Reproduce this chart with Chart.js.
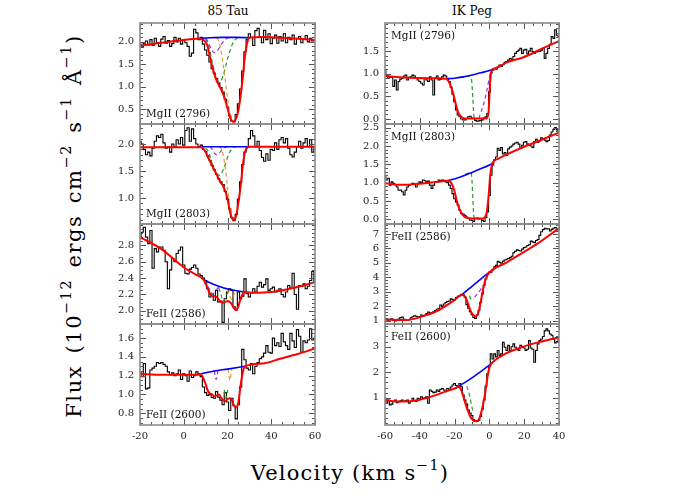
<!DOCTYPE html>
<html><head><meta charset="utf-8">
<script src="https://cdn.jsdelivr.net/npm/chart.js@4.4.1/dist/chart.umd.min.js"></script>
<style>
body{margin:0;background:#fff;width:700px;height:500px;position:relative;overflow:hidden;font-family:'DejaVu Serif',serif;}
canvas{position:absolute;}
.t{position:absolute;white-space:nowrap;color:#000;line-height:1;}
.t sup{font-size:68%;vertical-align:0.7em;}
</style></head><body>
<div class="t" style="left:228px;top:11px;transform:translate(-50%,-50%);font-size:12px;">85 Tau</div>
<div class="t" style="left:472px;top:11px;transform:translate(-50%,-50%);font-size:12px;">IK Peg</div>
<div class="t" style="left:72px;top:226px;transform:translate(-50%,-50%) rotate(-90deg);font-size:21px;letter-spacing:1.6px;word-spacing:3px;">Flux (10<sup>−12</sup> ergs cm<sup>−2</sup> s<sup>−1</sup> Å<sup>−1</sup>)</div>
<div class="t" style="left:350px;top:471px;transform:translate(-50%,-50%);font-size:21px;letter-spacing:1.2px;">Velocity (km s<sup>−1</sup>)</div>
<script>
// ---------- velocity grids ----------
const VEL_85TAU = [-20,-19,-18,-17,-16,-15,-14,-13,-12,-11,-10,-9,-8,-7,-6,-5,-4,-3,-2,-1,0,1,2,3,4,5,6,7,8,9,10,11,12,13,14,15,16,17,18,19,20,21,22,23,24,25,26,27,28,29,30,31,32,33,34,35,36,37,38,39,40,41,42,43,44,45,46,47,48,49,50,51,52,53,54,55,56,57,58,59,60];
const VEL_IKPEG = [-60,-59,-58,-57,-56,-55,-54,-53,-52,-51,-50,-49,-48,-47,-46,-45,-44,-43,-42,-41,-40,-39,-38,-37,-36,-35,-34,-33,-32,-31,-30,-29,-28,-27,-26,-25,-24,-23,-22,-21,-20,-19,-18,-17,-16,-15,-14,-13,-12,-11,-10,-9,-8,-7,-6,-5,-4,-3,-2,-1,0,1,2,3,4,5,6,7,8,9,10,11,12,13,14,15,16,17,18,19,20,21,22,23,24,25,26,27,28,29,30,31,32,33,34,35,36,37,38,39,40];

// ---------- tick labels ----------
const XTICKS_85TAU = [-20,0,20,40,60];
const XTICKS_IKPEG = [-60,-40,-20,0,20,40];
const YTICKS_TAU_MG2796 = [0.5,1.0,1.5,2.0];
const YTICKS_TAU_MG2803 = [1.0,1.5,2.0];
const YTICKS_TAU_FE2586 = [2.0,2.2,2.4,2.6,2.8];
const YTICKS_TAU_FE2600 = [0.8,1.0,1.2,1.4,1.6];
const YTICKS_PEG_MG2796 = [0.0,0.5,1.0,1.5];
const YTICKS_PEG_MG2803 = [0.0,0.5,1.0,1.5,2.0,2.5];
const YTICKS_PEG_FE2586 = [1,2,3,4,5,6,7];
const YTICKS_PEG_FE2600 = [1,2,3];

// ---------- 85 Tau MgII 2796 ----------
const TAU_MG2796_FLUX = [1.95,1.88,1.97,2.02,1.93,2.05,1.92,2.08,1.98,1.90,2.06,2.12,1.97,2.03,1.90,1.96,2.10,2.00,2.08,1.95,2.04,1.98,1.90,1.68,1.75,2.28,2.20,2.05,2.10,1.95,1.82,1.70,1.55,1.40,1.30,1.18,1.08,0.98,0.88,0.72,0.55,0.35,0.24,0.22,0.38,0.62,0.95,1.35,1.78,2.05,2.18,2.10,1.92,2.25,2.30,2.12,1.98,2.26,2.05,2.18,1.96,2.08,2.15,1.97,2.12,2.02,2.18,1.98,2.10,2.05,2.15,1.95,2.08,2.12,1.98,2.06,2.14,2.00,2.08,2.02,2.05];
const TAU_MG2796_FIT_V = [-20,-10,0,6,8,10,11,12,13,14,15,16,17,18,19,20,21,22,23,24,25,26,27,28,29,30,36,45,52,60];
const TAU_MG2796_FIT = [1.91,1.98,2.04,2.07,2.06,2.00,1.88,1.66,1.45,1.28,1.14,1.04,0.95,0.84,0.70,0.52,0.34,0.24,0.22,0.30,0.48,0.80,1.22,1.68,1.98,2.09,2.11,2.09,2.07,2.04];
const TAU_MG2796_CONT_V = [6,12,18,24,30];
const TAU_MG2796_CONT = [2.07,2.09,2.10,2.10,2.09];
const TAU_MG2796_C1_V = [10,11,12,13,14,15,16,17,18,19,20,21];
const TAU_MG2796_C1 = [2.08,2.02,1.90,1.80,1.76,1.78,1.85,1.93,2.00,2.05,2.08,2.10];
const TAU_MG2796_C2_V = [15,16,17,18,19,20,21,22,23];
const TAU_MG2796_C2 = [2.09,2.02,1.80,1.50,1.15,0.75,0.45,0.28,0.23];
const TAU_MG2796_C3_V = [10,11,12,13,14,15,16,17,18,19,20,21,22,23,24,25];
const TAU_MG2796_C3 = [2.07,1.98,1.80,1.56,1.34,1.18,1.11,1.13,1.25,1.42,1.62,1.78,1.92,2.02,2.07,2.10];

// ---------- 85 Tau MgII 2803 ----------
const TAU_MG2803_FLUX = [2.05,2.00,1.90,1.80,1.85,1.78,1.92,2.05,2.15,2.12,2.18,2.02,1.92,1.95,1.85,2.00,1.95,2.08,2.00,2.12,1.98,2.25,2.30,2.05,2.28,2.10,2.00,1.95,1.98,1.90,1.86,1.78,1.70,1.60,1.52,1.44,1.36,1.30,1.25,1.12,0.98,0.80,0.64,0.58,0.70,0.98,1.30,1.62,1.85,1.95,2.10,2.25,2.15,1.95,2.05,1.88,1.75,1.68,1.82,1.70,1.90,1.88,2.02,1.90,2.08,2.12,2.02,2.10,1.92,1.80,1.76,1.85,1.95,2.05,1.92,2.02,2.10,1.95,2.08,1.85,1.95];
const TAU_MG2803_FIT_V = [-20,0,8,9,10,11,12,13,14,15,16,17,18,19,20,21,22,23,24,25,26,27,28,29,30,60];
const TAU_MG2803_FIT = [1.94,1.94,1.94,1.91,1.85,1.76,1.68,1.60,1.52,1.44,1.35,1.28,1.22,1.13,0.98,0.77,0.63,0.60,0.68,0.92,1.22,1.60,1.85,1.93,1.95,1.95];
const TAU_MG2803_CONT_V = [8,14,20,26,30];
const TAU_MG2803_CONT = [1.95,1.95,1.95,1.95,1.95];
const TAU_MG2803_C1_V = [12,13,14,15,16,17,18,19,20];
const TAU_MG2803_C1 = [1.95,1.90,1.83,1.80,1.82,1.87,1.92,1.94,1.95];
const TAU_MG2803_C2_V = [16,17,18,19,20,21,22,23];
const TAU_MG2803_C2 = [1.95,1.93,1.80,1.55,1.20,0.85,0.65,0.60];
const TAU_MG2803_C3_V = [10,11,12,13,14,15,16,17,18,19,20,21,22,23,24];
const TAU_MG2803_C3 = [1.92,1.88,1.78,1.63,1.52,1.45,1.42,1.44,1.52,1.63,1.75,1.85,1.91,1.94,1.95];

// ---------- 85 Tau FeII 2586 ----------
const TAU_FE2586_FLUX = [2.88,2.96,3.02,2.90,2.82,2.98,2.52,2.76,2.72,2.78,2.78,2.74,2.60,2.27,2.50,2.64,2.60,2.70,2.74,2.78,2.56,2.46,2.45,2.51,2.53,2.56,2.52,2.45,2.43,2.40,2.37,2.27,2.17,2.21,2.13,2.25,2.11,2.12,1.86,2.15,2.23,2.27,2.25,2.05,2.01,2.23,2.15,2.18,2.39,2.21,2.17,2.22,2.27,2.23,2.30,2.35,2.29,2.32,2.39,2.25,2.27,2.29,2.23,2.25,2.27,2.20,2.17,2.23,2.31,2.28,2.46,2.20,2.02,2.31,2.30,2.33,2.27,2.30,2.37,2.48,2.35];
const TAU_FE2586_FIT_V = [-20,-10,0,5,9,10,11,12,13,14,15,16,17,18,19,20,21,22,23,24,25,26,27,28,32,40,50,60];
const TAU_FE2586_FIT = [2.90,2.75,2.53,2.45,2.38,2.33,2.27,2.21,2.18,2.18,2.17,2.14,2.11,2.10,2.11,2.12,2.11,2.08,2.03,2.01,2.06,2.15,2.21,2.23,2.22,2.23,2.28,2.35];
const TAU_FE2586_CONT_V = [9,15,21,28];
const TAU_FE2586_CONT = [2.38,2.31,2.26,2.23];
const TAU_FE2586_C1_V = [11,12,13,14,15,16];
const TAU_FE2586_C1 = [2.30,2.25,2.21,2.22,2.26,2.29];
const TAU_FE2586_C2_V = [20,21,22,23,24];
const TAU_FE2586_C2 = [2.26,2.18,2.14,2.20,2.25];
const TAU_FE2586_C3_V = [16,17,18,19,20,21];
const TAU_FE2586_C3 = [2.28,2.20,2.12,2.15,2.22,2.26];

// ---------- 85 Tau FeII 2600 ----------
const TAU_FE2600_FLUX = [1.24,1.19,1.33,1.06,1.07,1.26,1.28,1.30,1.34,1.33,1.34,1.32,1.30,1.24,1.21,1.23,1.20,1.22,1.26,1.16,1.22,1.20,1.14,1.25,1.18,1.20,1.24,1.22,1.19,1.08,1.02,0.99,1.00,0.97,0.96,1.03,0.97,0.94,0.89,1.02,0.92,0.83,0.96,0.88,0.74,0.89,1.08,1.48,1.37,1.28,1.26,1.33,1.22,1.30,1.34,1.38,1.40,1.44,1.52,1.45,1.44,1.60,1.52,1.55,1.51,1.65,1.56,1.52,1.48,1.65,1.57,1.50,1.69,1.62,1.45,1.57,1.55,1.58,1.70,1.58,1.60];
const TAU_FE2600_FIT_V = [-20,-10,0,8,9,10,11,12,13,14,15,16,17,18,19,20,21,22,23,24,25,26,27,28,36,44,52,60];
const TAU_FE2600_FIT = [1.22,1.21,1.21,1.21,1.17,1.11,1.04,1.01,1.00,0.98,0.99,1.00,0.97,0.94,0.93,0.95,0.96,0.94,0.88,0.86,0.92,1.10,1.24,1.30,1.33,1.38,1.43,1.49];
const TAU_FE2600_CONT_V = [8,14,20,28];
const TAU_FE2600_CONT = [1.22,1.25,1.27,1.30];
const TAU_FE2600_C1_V = [14,14.8,15.6];
const TAU_FE2600_C1 = [1.25,1.16,1.25];
const TAU_FE2600_C2_V = [20.3,21.1,21.9];
const TAU_FE2600_C2 = [1.27,1.15,1.27];
const TAU_FE2600_C3_V = [18.5,19.3,20.1];
const TAU_FE2600_C3 = [1.05,0.96,1.05];

// ---------- IK Peg MgII 2796 ----------
const PEG_MG2796_FLUX = [1.08,0.97,0.90,0.93,0.92,0.72,0.86,0.64,0.83,0.88,0.90,0.95,0.97,0.86,0.92,0.93,0.97,0.95,0.90,0.86,0.83,0.79,0.75,0.90,0.86,0.83,0.93,0.86,0.53,0.90,0.95,0.86,0.88,0.93,0.97,0.95,0.88,0.83,0.70,0.55,0.38,0.20,0.09,0.05,0.00,-0.02,-0.02,0.01,0.05,0.06,0.02,0.01,-0.03,-0.05,-0.04,-0.03,-0.02,0.02,0.05,0.12,0.60,1.01,1.08,1.12,1.10,1.15,1.19,1.16,1.20,1.25,1.27,1.30,1.34,1.31,1.38,1.45,1.49,1.52,1.56,1.45,1.52,1.54,1.44,1.50,1.56,1.49,1.45,1.48,1.50,1.49,1.52,1.56,1.34,1.45,1.56,1.65,1.82,1.78,1.97,1.85,1.82];
const PEG_MG2796_FIT_V = [-60,-45,-30,-25,-24,-23,-22,-21,-20,-19,-18,-17,-16,-15,-14,-5,-2,-1.5,-0.5,0.4,1.3,2,4,10,20,30,40];
const PEG_MG2796_FIT = [0.95,0.91,0.90,0.89,0.86,0.80,0.71,0.58,0.44,0.28,0.16,0.08,0.04,0.02,0.01,0.01,0.01,0.02,0.15,0.80,1.08,1.10,1.13,1.25,1.37,1.55,1.72];
const PEG_MG2796_CONT_V = [-25,-20,-15,-10,-5,0,2];
const PEG_MG2796_CONT = [0.89,0.90,0.93,0.97,1.02,1.07,1.10];
const PEG_MG2796_C1_V = [-6,-5.4,-3.5,-1.6,-0.1,1];
const PEG_MG2796_C1 = [0.01,0.09,0.31,0.60,0.90,1.05];
const PEG_MG2796_C3_V = [-17,-13,-11,-10.2,-9.5,-9,-8.5];
const PEG_MG2796_C3 = [0.92,0.94,0.95,0.85,0.45,0.10,0.01];

// ---------- IK Peg MgII 2803 ----------
const PEG_MG2803_FLUX = [1.17,1.07,1.12,0.93,1.02,0.98,0.95,0.88,0.79,0.80,0.75,0.66,0.79,0.88,0.93,0.95,0.98,0.96,0.88,0.98,1.02,1.00,1.07,1.05,1.02,1.04,0.93,0.84,0.93,1.02,1.02,1.07,1.05,1.07,1.06,1.02,1.00,0.93,0.84,0.70,0.56,0.47,0.38,0.25,0.16,0.14,0.11,0.06,0.02,-0.02,-0.03,-0.06,0.02,0.03,0.01,0.02,-0.03,-0.06,0.05,0.20,0.65,1.20,1.48,1.62,1.70,1.94,1.88,1.96,1.78,1.82,1.74,1.92,1.97,2.00,2.05,2.08,2.10,2.05,1.94,2.02,2.10,2.12,2.05,2.03,2.00,1.96,2.12,2.18,2.10,2.14,2.22,2.18,2.16,2.12,2.15,2.30,2.38,2.45,2.50,2.44,2.40];
const PEG_MG2803_FIT_V = [-60,-50,-40,-30,-24,-23,-22,-21,-20,-19,-18,-17,-16,-15,-14,-13,-10,-4,-2.5,-1.5,-0.6,0.4,1.3,2.3,5,10,20,30,40];
const PEG_MG2803_FIT = [0.98,0.94,0.97,1.02,1.05,1.04,1.00,0.90,0.76,0.55,0.38,0.25,0.16,0.10,0.06,0.04,0.02,0.02,0.06,0.20,0.56,1.16,1.46,1.57,1.65,1.77,1.98,2.17,2.36];
const PEG_MG2803_CONT_V = [-24,-18,-12,-6,0,2.3];
const PEG_MG2803_CONT = [1.05,1.13,1.24,1.36,1.48,1.55];
const PEG_MG2803_C3_V = [-14,-12,-10.5,-10,-9.5,-9,-8.5];
const PEG_MG2803_C3 = [1.23,1.26,1.28,1.05,0.55,0.12,0.02];

// ---------- IK Peg FeII 2586 ----------
const PEG_FE2586_FLUX = [1.15,1.06,1.03,1.08,1.12,1.00,0.98,1.06,1.10,1.20,1.24,1.08,1.05,1.03,1.05,1.19,1.26,1.33,1.30,1.25,1.27,1.38,1.33,1.36,1.48,1.59,1.54,1.52,1.60,1.70,1.78,1.82,2.08,1.98,2.15,2.25,2.32,2.35,2.50,2.45,2.42,2.60,2.68,2.72,2.82,2.78,2.62,2.10,1.85,1.62,1.40,1.22,1.15,1.40,1.70,2.25,2.85,3.45,3.90,4.20,4.35,4.35,4.50,4.72,4.82,5.10,5.03,4.97,5.12,5.20,5.25,5.30,5.36,5.45,5.70,5.80,5.90,5.85,5.82,5.95,6.05,6.10,6.20,6.25,6.50,6.45,6.40,6.55,6.62,6.90,7.15,7.30,7.40,7.35,7.36,7.20,7.32,7.40,7.45,7.30,7.28];
const PEG_FE2586_FIT_V = [-60,-48,-39,-29,-20,-16,-15,-14,-13,-12,-11,-10,-9,-8,-7,-6,-5,-4,-3,-2,-1,0,2,9,18.5,28,40];
const PEG_FE2586_FIT = [1.08,1.03,1.27,1.73,2.42,2.77,2.76,2.66,2.40,2.08,1.72,1.50,1.36,1.28,1.37,1.70,2.30,2.95,3.50,3.92,4.18,4.33,4.55,4.97,5.66,6.36,7.40];
const PEG_FE2586_CONT_V = [-16,-12,-8,-4,0.4];
const PEG_FE2586_CONT = [2.77,3.17,3.57,3.98,4.39];
const PEG_FE2586_C1_V = [-8.5,-6.5,-4.5,-3];
const PEG_FE2586_C1 = [2.62,2.90,3.25,3.50];
const PEG_FE2586_C3_V = [-11.5,-10.8,-10];
const PEG_FE2586_C3 = [2.72,2.50,2.28];

// ---------- IK Peg FeII 2600 ----------
const PEG_FE2600_FLUX = [0.98,0.78,0.91,0.72,0.75,0.85,0.91,0.80,0.84,0.88,0.91,0.85,0.88,0.91,0.78,0.86,0.98,0.88,0.85,0.98,0.95,1.04,0.98,1.00,1.04,0.78,1.30,1.25,1.20,1.22,1.30,1.25,1.33,1.36,1.30,1.24,1.36,1.33,1.42,1.50,1.56,1.48,1.43,1.56,1.43,1.10,0.91,0.75,0.52,0.40,0.30,0.14,0.10,0.07,0.12,0.27,0.55,0.91,1.45,1.94,2.25,2.72,2.52,2.72,2.60,2.85,2.66,2.72,3.17,2.98,2.85,3.05,2.85,3.00,3.11,2.98,2.90,2.85,3.05,3.00,2.95,2.85,2.90,3.24,2.95,2.90,2.39,2.85,3.11,3.24,3.30,3.40,3.62,3.70,3.62,3.50,3.45,3.30,3.15,3.20,3.37];
const PEG_FE2600_FIT_V = [-60,-55,-48,-40,-30,-25,-20,-18,-17,-16,-15,-14,-13,-12,-11,-10,-9,-8,-7,-6,-5,-4,-3,-2,-1,0,1,2.3,9,18.5,28,40];
const PEG_FE2600_FIT = [0.91,0.86,0.85,0.92,1.12,1.25,1.36,1.42,1.40,1.27,1.05,0.82,0.60,0.42,0.26,0.16,0.10,0.08,0.08,0.15,0.35,0.62,0.95,1.38,1.85,2.18,2.32,2.42,2.72,2.98,3.17,3.37];
const PEG_FE2600_CONT_V = [-19.8,-15,-10,-5,0.4];
const PEG_FE2600_CONT = [1.36,1.56,1.78,2.02,2.30];
const PEG_FE2600_C3_V = [-13,-12,-11,-10,-9.2];
const PEG_FE2600_C3 = [1.45,1.25,0.95,0.62,0.42];

// ---------- assembly ----------
const pts = (xs, ys) => xs.map((x, i) => ({x: x, y: ys[i]}));
const COL_FIT = '#ff0000', COL_CONT = '#0000ff', COL_C1 = '#a030e0', COL_C2 = '#d9a030', COL_C3 = '#2a9a2a';
const FONT = "'DejaVu Serif', serif";

function comps(fitV, fit, contV, cont, c1V, c1, c2V, c2, c3V, c3) {
  const ds = [];
  ds.push({data: pts(fitV, fit), borderColor: COL_FIT, borderWidth: 2, cubicInterpolationMode: 'monotone'});
  ds.push({data: pts(contV, cont), borderColor: COL_CONT, borderWidth: 1.6, cubicInterpolationMode: 'monotone'});
  if (c1V) ds.push({data: pts(c1V, c1), borderColor: COL_C1, borderWidth: 1.2, borderDash: [4, 3], cubicInterpolationMode: 'monotone'});
  if (c2V) ds.push({data: pts(c2V, c2), borderColor: COL_C2, borderWidth: 1.2, borderDash: [4, 3], cubicInterpolationMode: 'monotone'});
  if (c3V) ds.push({data: pts(c3V, c3), borderColor: COL_C3, borderWidth: 1.2, borderDash: [4, 3], cubicInterpolationMode: 'monotone'});
  return ds;
}

const L = {left: 140, w: 175}, R = {left: 385, w: 174};
const ROWS = [{top: 23, h: 101}, {top: 124, h: 100}, {top: 224, h: 100}, {top: 324, h: 101}];

const PANELS = [
  {col: L, row: 0, label: 'MgII (2796)', lab: 'bl', xr: [-20, 60], yr: [0.17, 2.42], xt: XTICKS_85TAU, yt: YTICKS_TAU_MG2796, ym: 0.1, dec: 1, vel: VEL_85TAU, flux: TAU_MG2796_FLUX,
   ds: comps(TAU_MG2796_FIT_V, TAU_MG2796_FIT, TAU_MG2796_CONT_V, TAU_MG2796_CONT, TAU_MG2796_C1_V, TAU_MG2796_C1, TAU_MG2796_C2_V, TAU_MG2796_C2, TAU_MG2796_C3_V, TAU_MG2796_C3)},
  {col: L, row: 1, label: 'MgII (2803)', lab: 'bl', xr: [-20, 60], yr: [0.52, 2.37], xt: XTICKS_85TAU, yt: YTICKS_TAU_MG2803, ym: 0.1, dec: 1, vel: VEL_85TAU, flux: TAU_MG2803_FLUX,
   ds: comps(TAU_MG2803_FIT_V, TAU_MG2803_FIT, TAU_MG2803_CONT_V, TAU_MG2803_CONT, TAU_MG2803_C1_V, TAU_MG2803_C1, TAU_MG2803_C2_V, TAU_MG2803_C2, TAU_MG2803_C3_V, TAU_MG2803_C3)},
  {col: L, row: 2, label: 'FeII (2586)', lab: 'bl', xr: [-20, 60], yr: [1.84, 3.06], xt: XTICKS_85TAU, yt: YTICKS_TAU_FE2586, ym: 0.05, dec: 1, vel: VEL_85TAU, flux: TAU_FE2586_FLUX,
   ds: comps(TAU_FE2586_FIT_V, TAU_FE2586_FIT, TAU_FE2586_CONT_V, TAU_FE2586_CONT, TAU_FE2586_C1_V, TAU_FE2586_C1, TAU_FE2586_C2_V, TAU_FE2586_C2, TAU_FE2586_C3_V, TAU_FE2586_C3)},
  {col: L, row: 3, label: 'FeII (2600)', lab: 'bl', xr: [-20, 60], yr: [0.675, 1.75], xt: XTICKS_85TAU, yt: YTICKS_TAU_FE2600, ym: 0.05, dec: 1, vel: VEL_85TAU, flux: TAU_FE2600_FLUX, showX: true,
   ds: comps(TAU_FE2600_FIT_V, TAU_FE2600_FIT, TAU_FE2600_CONT_V, TAU_FE2600_CONT, TAU_FE2600_C1_V, TAU_FE2600_C1, TAU_FE2600_C2_V, TAU_FE2600_C2, TAU_FE2600_C3_V, TAU_FE2600_C3)},
  {col: R, row: 0, label: 'MgII (2796)', lab: 'tl', xr: [-60, 40], yr: [-0.11, 2.12], xt: XTICKS_IKPEG, yt: YTICKS_PEG_MG2796, ym: 0.1, dec: 1, vel: VEL_IKPEG, flux: PEG_MG2796_FLUX,
   ds: comps(PEG_MG2796_FIT_V, PEG_MG2796_FIT, PEG_MG2796_CONT_V, PEG_MG2796_CONT, PEG_MG2796_C1_V, PEG_MG2796_C1, null, null, PEG_MG2796_C3_V, PEG_MG2796_C3)},
  {col: R, row: 1, label: 'MgII (2803)', lab: 'tl', xr: [-60, 40], yr: [-0.13, 2.6], xt: XTICKS_IKPEG, yt: YTICKS_PEG_MG2803, ym: 0.1, dec: 1, vel: VEL_IKPEG, flux: PEG_MG2803_FLUX,
   ds: comps(PEG_MG2803_FIT_V, PEG_MG2803_FIT, PEG_MG2803_CONT_V, PEG_MG2803_CONT, null, null, null, null, PEG_MG2803_C3_V, PEG_MG2803_C3)},
  {col: R, row: 2, label: 'FeII (2586)', lab: 'tl', xr: [-60, 40], yr: [0.76, 7.69], xt: XTICKS_IKPEG, yt: YTICKS_PEG_FE2586, ym: 0.2, dec: 0, vel: VEL_IKPEG, flux: PEG_FE2586_FLUX,
   ds: comps(PEG_FE2586_FIT_V, PEG_FE2586_FIT, PEG_FE2586_CONT_V, PEG_FE2586_CONT, PEG_FE2586_C1_V, PEG_FE2586_C1, null, null, PEG_FE2586_C3_V, PEG_FE2586_C3)},
  {col: R, row: 3, label: 'FeII (2600)', lab: 'tl', xr: [-60, 40], yr: [-0.07, 3.89], xt: XTICKS_IKPEG, yt: YTICKS_PEG_FE2600, ym: 0.2, dec: 0, vel: VEL_IKPEG, flux: PEG_FE2600_FLUX, showX: true,
   ds: comps(PEG_FE2600_FIT_V, PEG_FE2600_FIT, PEG_FE2600_CONT_V, PEG_FE2600_CONT, null, null, null, null, PEG_FE2600_C3_V, PEG_FE2600_C3)}
];

const PADL = 60, PADT = 8, PADR = 14, PADB = 6, XAXH = 22;

function framePlugin(p) {
  return {
    id: 'frame',
    afterDatasetsDraw(chart) {
      const ctx = chart.ctx, a = chart.chartArea, xs = chart.scales.x, ys = chart.scales.y;
      ctx.save();
      ctx.strokeStyle = '#555'; ctx.lineWidth = 1;
      const xMinor = 5;
      for (let k = Math.ceil(p.xr[0] / xMinor); k * xMinor <= p.xr[1] + 1e-9; k++) {
        const v = k * xMinor, px = Math.round(xs.getPixelForValue(v)) + 0.5;
        const len = (v % 20 === 0) ? 6 : 3;
        ctx.beginPath(); ctx.moveTo(px, a.bottom); ctx.lineTo(px, a.bottom - len);
        ctx.moveTo(px, a.top); ctx.lineTo(px, a.top + len); ctx.stroke();
      }
      for (let k = Math.ceil(p.yr[0] / p.ym - 1e-9); k * p.ym <= p.yr[1] + 1e-9; k++) {
        const v = k * p.ym, py = Math.round(ys.getPixelForValue(v)) + 0.5;
        const major = p.yt.some(t => Math.abs(t - v) < 1e-6);
        const len = major ? 6 : 3;
        ctx.beginPath(); ctx.moveTo(a.left, py); ctx.lineTo(a.left + len, py);
        ctx.moveTo(a.right, py); ctx.lineTo(a.right - len, py); ctx.stroke();
      }
      ctx.strokeStyle = '#8c8c8c'; ctx.lineWidth = 1.6;
      ctx.strokeRect(a.left, a.top, a.right - a.left, a.bottom - a.top);
      ctx.fillStyle = '#111';
      ctx.font = "10.5px " + FONT;
      ctx.textAlign = 'left'; ctx.textBaseline = 'alphabetic';
      if (p.lab === 'bl') ctx.fillText(p.label, a.left + 6, a.bottom - 7);
      else ctx.fillText(p.label, a.left + 6, a.top + 16);
      ctx.restore();
    }
  };
}

function noPad(s) { s.paddingLeft = 0; s.paddingRight = 0; s.paddingTop = 0; s.paddingBottom = 0; }

PANELS.forEach(p => {
  const row = ROWS[p.row];
  const cv = document.createElement('canvas');
  const W = PADL + p.col.w + PADR;
  const H = PADT + row.h + (p.showX ? XAXH : 0) + PADB;
  cv.width = W; cv.height = H;
  cv.style.left = (p.col.left - PADL) + 'px';
  cv.style.top = (row.top - PADT) + 'px';
  cv.style.width = W + 'px'; cv.style.height = H + 'px';
  document.body.appendChild(cv);
  const datasets = p.ds.slice();
  datasets.push({data: pts(p.vel, p.flux), borderColor: '#000', borderWidth: 1.1, stepped: 'middle'});
  datasets.forEach(d => { d.pointRadius = 0; d.fill = false; });
  new Chart(cv, {
    type: 'line',
    data: {datasets: datasets},
    options: {
      responsive: false, animation: false, devicePixelRatio: 1,
      layout: {padding: {left: 0, right: PADR, top: PADT, bottom: PADB}},
      plugins: {legend: {display: false}, tooltip: {enabled: false}, title: {display: false}},
      scales: {
        x: {type: 'linear', min: p.xr[0], max: p.xr[1],
          afterBuildTicks: s => { s.ticks = p.xt.map(v => ({value: v})); },
          afterFit: s => { s.height = p.showX ? XAXH : 0; noPad(s); },
          grid: {display: false, drawTicks: false}, border: {display: false},
          ticks: {display: !!p.showX, autoSkip: false, maxRotation: 0, padding: 5, color: '#222',
            font: {family: FONT, size: 10}, callback: v => String(v)}},
        y: {type: 'linear', min: p.yr[0], max: p.yr[1],
          afterBuildTicks: s => { s.ticks = p.yt.map(v => ({value: v})); },
          afterFit: s => { s.width = PADL; noPad(s); },
          grid: {display: false, drawTicks: false}, border: {display: false},
          ticks: {autoSkip: false, padding: 6, color: '#222',
            font: {family: FONT, size: 10}, callback: v => Number(v).toFixed(p.dec)}}
      }
    },
    plugins: [framePlugin(p)]
  });
});
</script>
</body></html>
